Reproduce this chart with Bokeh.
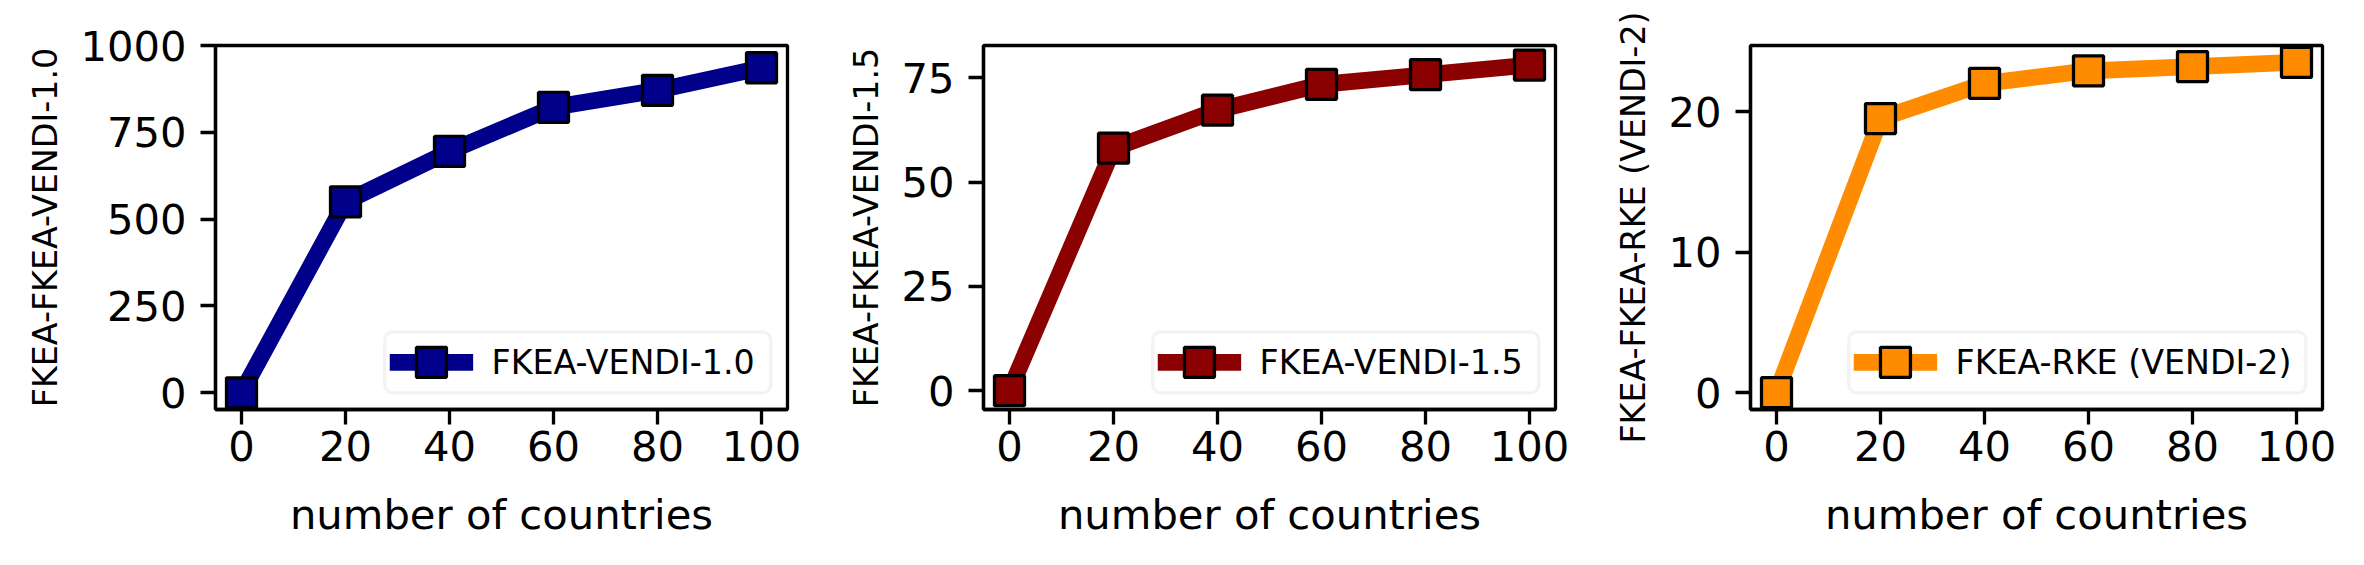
from bokeh.plotting import figure
from bokeh.layouts import row
from bokeh.models import FixedTicker, Range1d, BoxAnnotation, Label
from bokeh.embed import file_html
from bokeh.resources import INLINE

# ---- data ----
countries = [0, 20, 40, 60, 80, 100]
vendi_10 = [0, 550, 695, 822, 871, 936]
vendi_15 = [0, 58.1, 67.2, 73.4, 75.7, 78.0]
rke_v2 = [0, 19.5, 22.0, 22.9, 23.2, 23.5]

x_ticks = [0, 20, 40, 60, 80, 100]
y_ticks_1 = [0, 250, 500, 750, 1000]
y_ticks_2 = [0, 25, 50, 75]
y_ticks_3 = [0, 10, 20]

labels = ["FKEA-VENDI-1.0", "FKEA-VENDI-1.5", "FKEA-RKE (VENDI-2)"]
ylabels = ["FKEA-FKEA-VENDI-1.0", "FKEA-FKEA-VENDI-1.5", "FKEA-FKEA-RKE (VENDI-2)"]
colors = ["#00008B", "#8B0000", "#FF8C00"]
xlabel = "number of countries"

FONT = "DejaVu Sans"
TICK_FS = "41.7px"
SMALL_FS = "33.3px"
LW_AX = 3.3
FRAME_W = 572
FRAME_H = 364


def add_legend(p, label, color, text_w):
    # hand-drawn legend box (screen units, relative to the plot frame)
    pad = 13.3
    handle = 66.7
    textpad = 26.7
    lw = 16.7
    box_w = pad + handle + textpad + text_w + pad
    right = FRAME_W - 16.7
    left = right - box_w
    bottom = 16.7
    top = bottom + 61
    cy = (bottom + top) / 2
    hs = left + pad
    p.add_layout(BoxAnnotation(left=left, right=right, bottom=bottom, top=top,
                               left_units="screen", right_units="screen",
                               bottom_units="screen", top_units="screen",
                               fill_color="white", fill_alpha=0.8,
                               line_color="#d6d6d6", line_width=3.3,
                               border_radius=8, level="annotation"))
    p.add_layout(BoxAnnotation(left=hs - lw / 2, right=hs + handle + lw / 2,
                               bottom=cy - lw / 2, top=cy + lw / 2,
                               left_units="screen", right_units="screen",
                               bottom_units="screen", top_units="screen",
                               fill_color=color, fill_alpha=1.0,
                               line_alpha=0, level="annotation"))
    mc = hs + handle / 2
    p.add_layout(BoxAnnotation(left=mc - 15, right=mc + 15,
                               bottom=cy - 15, top=cy + 15,
                               left_units="screen", right_units="screen",
                               bottom_units="screen", top_units="screen",
                               fill_color=color, fill_alpha=1.0,
                               line_color="black", line_width=3.3,
                               line_alpha=1.0, level="annotation"))
    p.add_layout(Label(x=hs + handle + textpad, y=cy, x_units="screen",
                       y_units="screen", text=label, text_font=FONT,
                       text_font_size=SMALL_FS, text_color="black",
                       text_baseline="middle", text_align="left"))


def make_panel(series, yticks, yrange, label, ylab, color, width, bl, br, text_w):
    p = figure(width=width, height=557,
               x_range=Range1d(-5, 105), y_range=Range1d(*yrange),
               output_backend="svg", toolbar_location=None,
               min_border_left=bl, min_border_right=br,
               min_border_top=45, min_border_bottom=557 - 45 - FRAME_H)
    p.grid.visible = False
    p.outline_line_color = "black"
    p.outline_line_width = LW_AX
    p.outline_line_alpha = 1.0
    p.background_fill_color = "white"
    p.border_fill_color = "white"

    p.line(countries, series, line_width=16.7, color=color,
           line_join="round", line_cap="square")
    p.scatter(countries, series, marker="square", size=30,
              fill_color=color, line_color="black", line_width=3.3)

    p.xaxis.ticker = FixedTicker(ticks=x_ticks)
    p.yaxis.ticker = FixedTicker(ticks=yticks)
    for ax in (p.xaxis, p.yaxis):
        ax.axis_line_width = LW_AX
        ax.axis_line_color = "black"
        ax.major_tick_line_width = LW_AX
        ax.major_tick_line_color = "black"
        ax.major_tick_out = 15
        ax.major_tick_in = 0
        ax.minor_tick_out = 0
        ax.minor_tick_in = 0
        ax.major_label_text_font = FONT
        ax.major_label_text_font_size = TICK_FS
        ax.major_label_text_color = "black"
        ax.axis_label_text_font = FONT
        ax.axis_label_text_font_style = "normal"
        ax.axis_label_text_color = "black"
    p.xaxis.axis_label = xlabel
    p.xaxis.axis_label_text_font_size = TICK_FS
    p.xaxis.major_label_standoff = 6
    p.xaxis.axis_label_standoff = 26
    p.yaxis.axis_label = ylab
    p.yaxis.axis_label_text_font_size = SMALL_FS
    p.yaxis.major_label_standoff = 14
    p.yaxis.axis_label_standoff = 12

    add_legend(p, label, color, text_w)
    return p


p1 = make_panel(vendi_10, y_ticks_1, (-48, 1000), labels[0], ylabels[0], colors[0], 830, 215, 43, 266)
p2 = make_panel(vendi_15, y_ticks_2, (-4.5, 82.7), labels[1], ylabels[1], colors[1], 770, 153, 45, 266)
p3 = make_panel(rke_v2, y_ticks_3, (-1.2, 24.7), labels[2], ylabels[2], colors[2], 756, 150, 34, 337)

layout = row(p1, p2, p3)
open("out.html", "w").write(file_html(layout, INLINE))
